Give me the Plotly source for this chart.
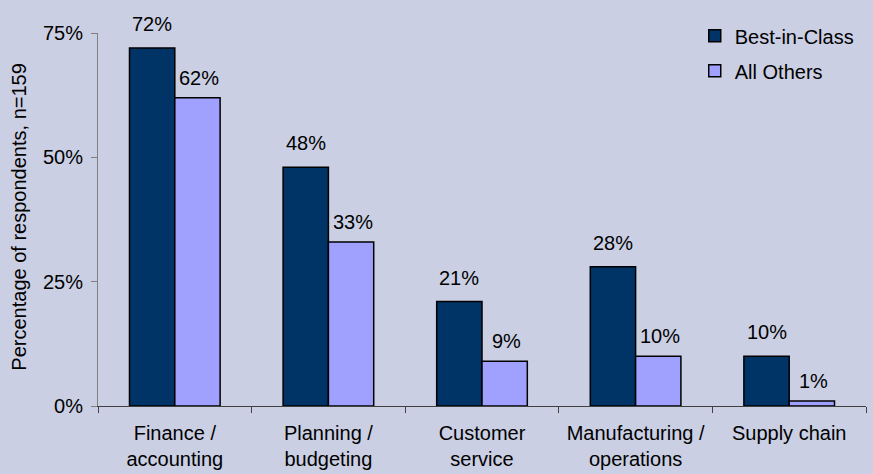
import plotly.graph_objects as go

# Survey results by business area
categories = ["Finance /<br>accounting", "Planning /<br>budgeting", "Customer<br>service",
              "Manufacturing /<br>operations", "Supply chain"]
best_in_class = [72, 48, 21, 28, 10]
all_others = [62, 33, 9, 10, 1]
tick_vals = [0, 25, 50, 75]
tick_text = ["0%", "25%", "50%", "75%"]

BG = "#CACFE3"
FONT = "Liberation Sans, Arial, sans-serif"
W, H = 873, 474
ML, MR, MT, MB = 98, 7, 33, 68
BARGAP = 0.41

# half a bar's width in pixels, used to centre value labels over each bar
cat_px = (W - ML - MR) / len(categories)
half_bar = cat_px * (1 - BARGAP) / 4

fig = go.Figure()
fig.add_trace(go.Bar(
    name="Best-in-Class", x=categories, y=best_in_class,
    marker=dict(color="#003366", line=dict(color="black", width=1.5)),
    legendgroup="a",
))
fig.add_trace(go.Bar(
    name="All Others", x=categories, y=all_others,
    marker=dict(color="#A0A0FF", line=dict(color="black", width=1.5)),
    legendgroup="b",
))

labels = []
for cat, v in zip(categories, best_in_class):
    labels.append(dict(x=cat, y=v, text=f"{v}%", xshift=-half_bar, yshift=11,
                       xanchor="center", yanchor="bottom", showarrow=False))
for cat, v in zip(categories, all_others):
    labels.append(dict(x=cat, y=v, text=f"{v}%", xshift=half_bar + 2, yshift=7,
                       xanchor="center", yanchor="bottom", showarrow=False))
labels.append(dict(
    text="Percentage of respondents, n=159", textangle=-90,
    xref="paper", yref="paper", x=(19 - ML) / (W - ML - MR), y=0.505,
    xanchor="center", yanchor="middle", showarrow=False,
))

fig.update_layout(
    width=W, height=H,
    margin=dict(l=ML, r=MR, t=MT, b=MB),
    paper_bgcolor=BG, plot_bgcolor=BG,
    font=dict(family=FONT, size=20, color="black"),
    barmode="group", bargap=BARGAP, bargroupgap=0,
    showlegend=True,
    legend=dict(x=0.777, y=1.045, xanchor="left", yanchor="top",
                bgcolor="rgba(0,0,0,0)", tracegroupgap=6),
    xaxis=dict(showline=True, linecolor="#404040", linewidth=1,
               ticks="outside", ticklen=6, tickcolor="#404040",
               tickson="boundaries", showgrid=False, ticklabelstandoff=9,
               automargin=False),
    yaxis=dict(range=[0, 75], tickvals=tick_vals, ticktext=tick_text,
               showline=True, linecolor="#808080", linewidth=1,
               ticks="outside", ticklen=6, tickcolor="#808080",
               showgrid=False, zeroline=False, ticklabelstandoff=4,
               automargin=False),
    annotations=labels,
)

fig.write_html("out.html")
